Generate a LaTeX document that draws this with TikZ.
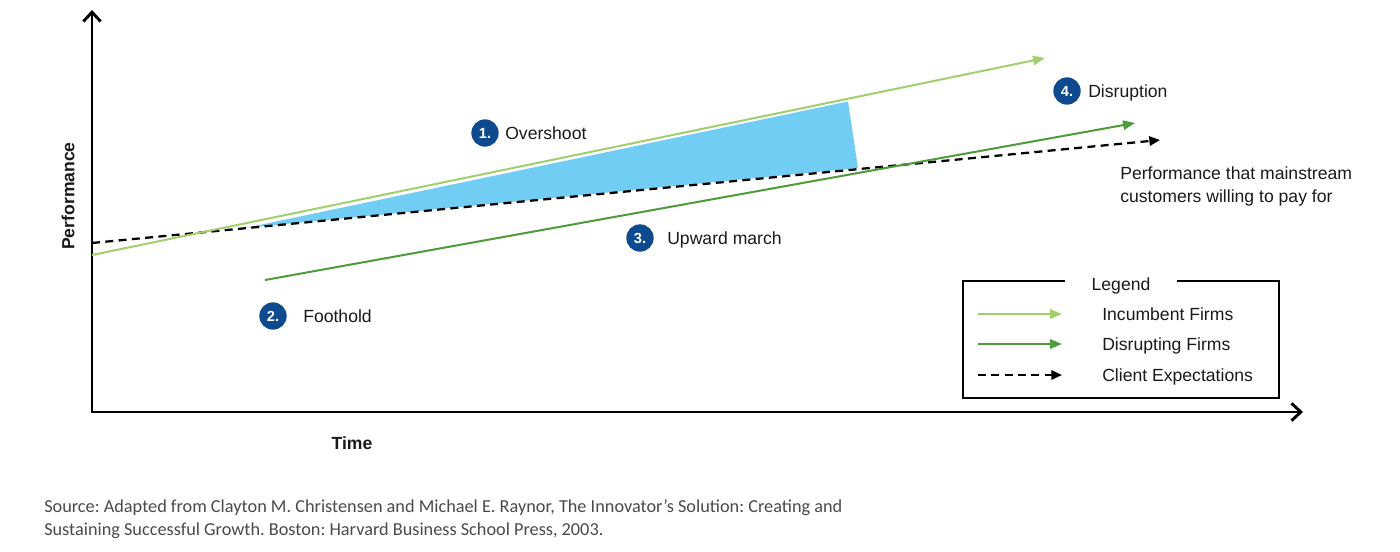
\documentclass[tikz,border=0pt]{standalone}
\usepackage{xcolor}
\usepackage{fontspec}
\setmainfont{Liberation Sans}
\newfontfamily\sourcefont{Carlito}
\usepackage{tikz}
\usetikzlibrary{arrows.meta}
\usetikzlibrary{positioning}
\definecolor{incumb}{HTML}{A0CF6E}
\definecolor{disrupt}{HTML}{4F9B3C}
\definecolor{gapfill}{HTML}{72CDF4}
\definecolor{badge}{HTML}{0D4A8E}
\definecolor{txt}{HTML}{1A1A1A}
\definecolor{srcgrey}{HTML}{4A4A4A}
\newcommand{\lblfont}{\fontsize{13.2}{17.25}\selectfont}
\frenchspacing

\begin{document}
\begin{tikzpicture}[
  x=0.75pt, y=-0.75pt,
  axis/.style ={
    line width=2.2pt,
    {Straight Barb[length=7pt,width=13pt,line width=2.2pt]}-{Straight Barb[length=7pt,width=13pt,line width=2.2pt]}
  },
  incumbent/.style={
    draw=incumb, line width=1.5pt,
    -{Triangle[length=9pt,width=7pt]}},
  disrupting/.style={
    draw=disrupt, line width=1.5pt,
    -{Triangle[length=9pt,width=7pt]}},
  expect/.style={
    draw=black, line width=1.7pt, dash pattern=on 6pt off 4pt,
    -{Triangle[length=8pt,width=7pt]}},
  badgenum/.style={
    circle, fill=badge, text=white, inner sep=0pt,
    minimum size=20.5pt,
    font=\bfseries\fontsize{11}{11}\selectfont},
  note/.style={
    text=txt, inner sep=0pt, font=\lblfont,
    text height=11pt, text depth=1.6pt},
]

  \useasboundingbox (0,0) rectangle (1400,551);

    % Axes
  \coordinate (ytip) at (92,10);
  \coordinate (origin) at (92,412);
  \coordinate (xtip) at (1303,412);
  \draw[axis] (ytip) -- (origin) -- (xtip);

  \node[note, rotate=90, font=\bfseries\lblfont] (perf) at (68,196) {Performance};
  \node[note, font=\bfseries\lblfont] (time) at (352,443) {Time};

    % Overshoot gap
  \coordinate (gapL) at (245,228);
  \coordinate (gapT) at (848,101.5);
  \coordinate (gapB) at (858,168);
  \fill[gapfill] (gapL) -- (gapT) -- (gapB) -- cycle;

    % Trajectories
  \coordinate (inc_0) at (92,255);
  \coordinate (inc_1) at (1045,58);
  \coordinate (dis_0) at (265,280);
  \coordinate (dis_1) at (1135,123);
  \coordinate (exp_0) at (92,243);
  \coordinate (exp_1) at (1160,140);
  \draw[expect] (exp_0) -- (exp_1);
  \draw[incumbent] (inc_0) -- (inc_1);
  \draw[disrupting] (dis_0) -- (dis_1);

  \node[note, align=left, anchor=west, text height=, text depth=] (expnote)
      at (1120,186) {Performance that mainstream\\customers willing to pay for};

    % Phases
  \foreach \n/\bx/\by/\tx/\txt in {1/485/133/505/Overshoot,
      2/273/316/303/Foothold, 3/640/238/667/Upward march,
      4/1067/91/1088/Disruption} {
    \node[badgenum] (badge_\n) at (\bx,\by) {\n.};
    \node[note, anchor=west] (phase_\n) at (\tx,\by) {\txt};
  }

    % Legend
  \draw[line width=2pt] (963,281) rectangle (1279,398);
  \node[note, fill=white, minimum width=84pt, inner ysep=2pt] (legend)
      at (1121,284) {Legend};
  \foreach \y/\sty/\txt [count=\i] in {314/incumbent/Incumbent Firms,
      344/disrupting/Disrupting Firms, 375/expect/Client Expectations} {
    \coordinate (keyA_\i) at (978,\y);
    \coordinate (keyB_\i) at (1062,\y);
    \draw[\sty] (keyA_\i) -- (keyB_\i);
    \node[note, anchor=west] (key_\i) at (1102,\y) {\txt};
  }

    % Source
  \node[anchor=west, align=left, inner sep=0pt, text=srcgrey,
      font=\sourcefont\fontsize{13.7}{17.25}\selectfont] (source)
      at (44,519) {Source: Adapted from Clayton M. Christensen and Michael E. Raynor, The Innovator’s Solution: Creating and\\
      Sustaining Successful Growth. Boston: Harvard Business School Press, 2003.};

\end{tikzpicture}
\end{document}
